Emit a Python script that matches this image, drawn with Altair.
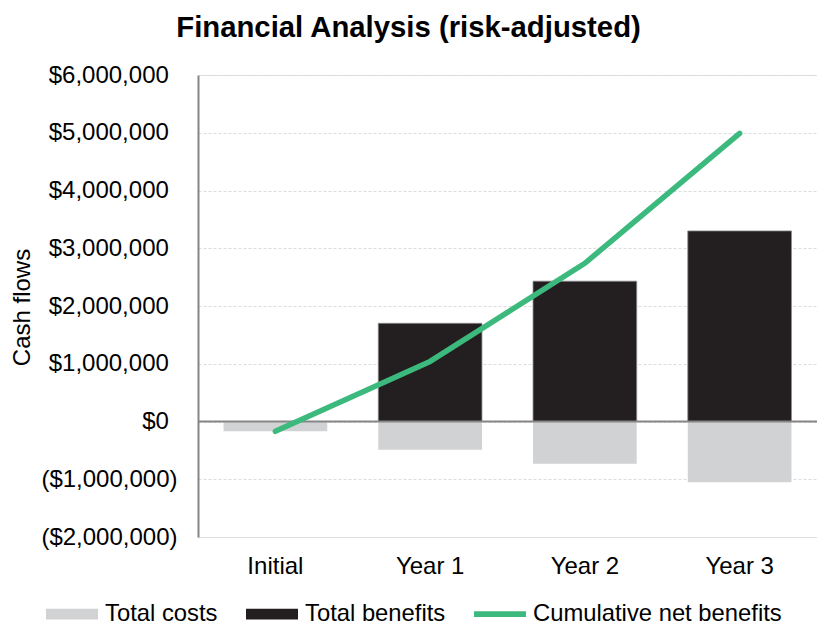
import altair as alt
import pandas as pd

categories = ["Initial", "Year 1", "Year 2", "Year 3"]
total_costs = [-170000, -490000, -730000, -1050000]
total_benefits = [0, 1700000, 2430000, 3300000]
cumulative_net = [-170000, 1040000, 2740000, 4990000]
series_names = ["Total costs", "Total benefits", "Cumulative net benefits"]
y_ticks = [-2000000, -1000000, 0, 1000000, 2000000, 3000000, 4000000, 5000000, 6000000]

rows = []
for i, c in enumerate(categories):
    rows.append({"category": c, "series": series_names[0], "value": total_costs[i]})
    rows.append({"category": c, "series": series_names[1], "value": total_benefits[i]})
    rows.append({"category": c, "series": series_names[2], "value": cumulative_net[i]})
df = pd.DataFrame(rows)

FONT = "Liberation Sans"
GRAY = "#d1d2d4"
BLACK = "#231f20"
GREEN = "#3cb97d"

color_scale = alt.Scale(domain=series_names, range=[GRAY, BLACK, GREEN])
shape_scale = alt.Scale(
    domain=series_names,
    range=[
        "M-1,-0.21H1V0.21H-1Z",
        "M-1,-0.21H1V0.21H-1Z",
        "M-1,-0.11H1V0.11H-1Z",
    ],
)

x_enc = alt.X(
    "category:N",
    sort=categories,
    scale=alt.Scale(paddingInner=0.33, paddingOuter=0.165),
    axis=alt.Axis(
        title=None, labelAngle=0, domain=False, ticks=False, grid=False,
        labelFontSize=24, labelFont=FONT, labelColor="#000000", labelPadding=17,
    ),
)
y_scale = alt.Scale(domain=[-2000000, 6000000], nice=False, zero=False)
y_enc = alt.Y(
    "value:Q",
    scale=y_scale,
    axis=alt.Axis(
        title="Cash flows", values=y_ticks, ticks=False,
        domainColor="#868686", domainWidth=2,
        gridColor="#dcdcdc", gridDash=[3, 2], gridWidth=1,
        labelFontSize=24, labelFont=FONT, labelColor="#000000", labelPadding=21,
        labelExpr="datum.value < 0 ? '(' + format(-datum.value, '$,.0f') + ')' : format(datum.value, '$,.0f') + '\u00a0\u200a\u200b'",
        titleFont=FONT, titleFontSize=24, titleFontWeight="normal", titleColor="#000000",
        titleX=-169, titleY=232, titleAngle=270, titleAlign="center", titleBaseline="alphabetic",
    ),
)

base = alt.Chart(df)

costs = base.transform_filter(alt.datum.series == series_names[0]).mark_bar(
    color=GRAY
).encode(x=x_enc, y=y_enc, color=alt.Color("series:N", scale=color_scale, legend=None))

benefits = base.transform_filter(
    (alt.datum.series == series_names[1]) & (alt.datum.value != 0)
).mark_bar(stroke="#8a8a8a", strokeWidth=0.8).encode(
    x=x_enc, y=y_enc, color=alt.Color("series:N", scale=color_scale, legend=None)
)

zero_rule = alt.Chart(pd.DataFrame({"zero": [0]})).mark_rule(
    color="#868686", strokeWidth=2
).encode(y=alt.Y("zero:Q", scale=y_scale))

line = base.transform_filter(alt.datum.series == series_names[2]).mark_line(
    strokeWidth=5.5, strokeCap="round", strokeJoin="round"
).encode(
    x=x_enc, y=y_enc, color=alt.Color("series:N", scale=color_scale, legend=None)
)

legend_props = dict(
    title=None, orient="none", direction="horizontal",
    legendX=-152, legendY=513,
    symbolSize=2704, symbolStrokeWidth=0, symbolOpacity=1,
    labelFont=FONT, labelFontSize=23.8, labelColor="#000000", labelLimit=400,
    labelOffset=7, columnPadding=28, padding=0,
)

legend_layer = base.transform_filter("false").mark_point(filled=True).encode(
    x=x_enc,
    y=y_enc,
    color=alt.Color("series:N", scale=color_scale, legend=alt.Legend(**legend_props)),
    shape=alt.Shape("series:N", scale=shape_scale, legend=alt.Legend(**legend_props)),
)

chart = alt.layer(costs, benefits, zero_rule, line, legend_layer).resolve_legend(
    color="independent", shape="independent"
).properties(
    width=619,
    height=462,
    title=alt.TitleParams(
        "Financial Analysis (risk-adjusted)",
        font=FONT, fontSize=29.3, fontWeight="bold", color="#000000",
        anchor="middle", dx=-99, offset=20,
    ),
    autosize=alt.AutoSizeParams(type="none"),
    padding={"left": 198, "top": 75, "right": 0, "bottom": 90},
).configure_view(stroke=None).configure(background="white")

chart.save("out.html", embed_options={"renderer": "svg", "actions": False})
